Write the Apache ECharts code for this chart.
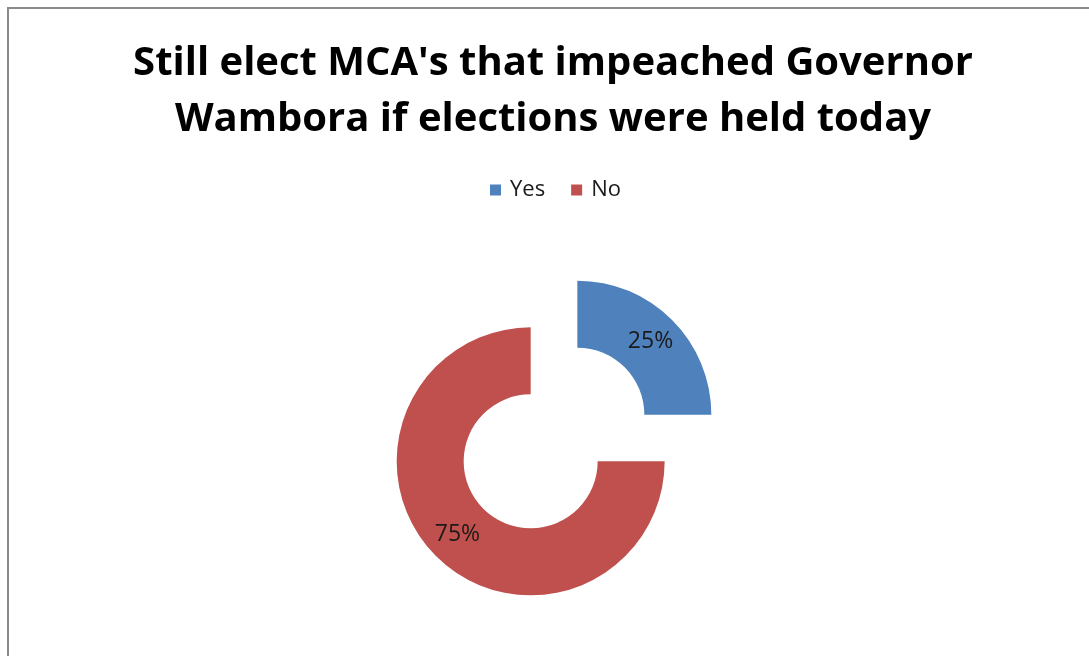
<!DOCTYPE html>
<html>
<head>
<meta charset="utf-8">
<script src="https://cdn.jsdelivr.net/npm/echarts@6/dist/echarts.min.js"></script>
<style>
  html, body { margin: 0; padding: 0; background: #ffffff; }
  #chart { width: 1089px; height: 656px; }
</style>
</head>
<body>
<div id="chart"></div>
<script>
// Survey answers and their shares (percent)
const categories = ['Yes', 'No'];
const shares = [25, 75];
const colors = ['#4F81BD', '#C0504D'];
const titleText = "Still elect MCA's that impeached Governor\nWambora if elections were held today";

const chart = echarts.init(document.getElementById('chart'), null, { renderer: 'canvas' });

const pieData = categories.map((name, i) => ({
  name: name,
  value: shares[i],
  selected: true,
  itemStyle: { color: colors[i] }
}));

chart.setOption({
  animation: false,
  backgroundColor: '#ffffff',
  // chart-area frame (left and top edges visible)
  graphic: [{
    type: 'rect',
    shape: { x: 8, y: 8, width: 1200, height: 800 },
    style: { fill: 'none', stroke: '#8a8a8a', lineWidth: 2 },
    silent: true,
    z: 100
  }],
  title: {
    text: titleText,
    left: 548,
    textAlign: 'center',
    top: 31,
    padding: 5,
    textStyle: {
      fontFamily: 'Open Sans',
      fontWeight: 'bold',
      fontSize: 40,
      lineHeight: 56,
      color: '#000000'
    }
  },
  legend: {
    data: categories,
    left: 485,
    top: 174,
    padding: 5,
    icon: 'rect',
    itemWidth: 11,
    itemHeight: 11,
    itemGap: 26,
    selectedMode: false,
    textStyle: {
      fontFamily: 'Open Sans',
      fontSize: 22,
      color: '#1a1a1a',
      padding: [0, 0, 0, 4]
    }
  },
  series: [{
    type: 'pie',
    center: [554, 438],
    radius: [67, 134],
    startAngle: 90,
    clockwise: true,
    selectedMode: 'multiple',
    selectedOffset: 33,
    avoidLabelOverlap: false,
    emphasis: { disabled: true },
    label: {
      show: true,
      position: 'inside',
      formatter: '{d}%',
      fontFamily: 'Open Sans',
      fontSize: 23,
      color: '#1a1a1a'
    },
    labelLine: { show: false },
    data: pieData
  }]
});
</script>
</body>
</html>
